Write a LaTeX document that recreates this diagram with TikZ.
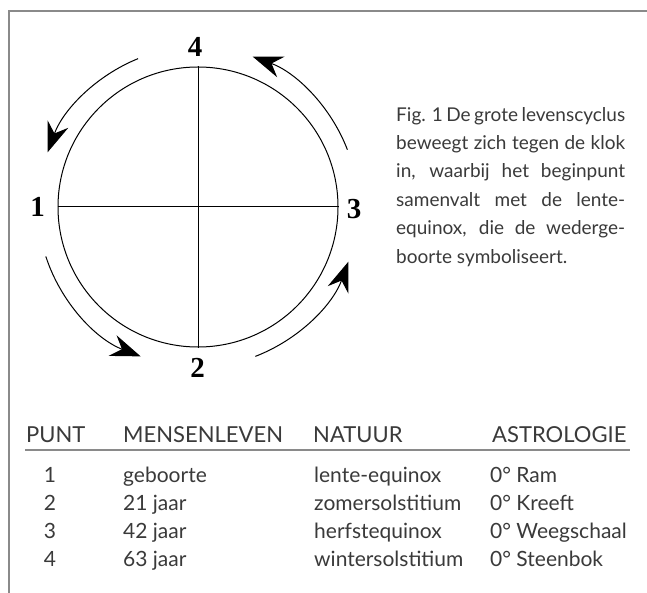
\documentclass[tikz,border=0pt]{standalone}
\usepackage{fontspec}
\setmainfont{Lato}
\newfontfamily\numfont{Liberation Serif}
\usetikzlibrary{arrows.meta,calc}
\definecolor{txt}{HTML}{3A3A3A}
\definecolor{framegray}{HTML}{8A8A8A}
\begin{document}
\begin{tikzpicture}[x=1pt,y=-1pt,
  captext/.style={anchor=base west, inner sep=0pt, text=txt, font=\fontsize{19}{19}\selectfont},
  cell/.style={anchor=base west, inner sep=0pt, text=txt, font=\fontsize{21}{21}\selectfont},
  headcell/.style={anchor=base west, inner sep=0pt, text=txt, font=\fontsize{22}{22}\selectfont},
  digit/.style={anchor=base, inner sep=0pt, text=txt, font=\fontsize{21}{21}\selectfont},
  num/.style={inner sep=0pt, font=\numfont\bfseries\fontsize{29}{29}\selectfont},
  cyc/.style={line width=1pt, -{Stealth[length=30pt,width=22pt,inset=10pt]}},
  thinline/.style={line width=1pt},
  rulegray/.style={framegray, line width=2pt},
]
\useasboundingbox (0,0) rectangle (647,593);
\fill[white] (0,0) rectangle (647,593);
% frame
\coordinate (fb) at (8.5,600);
\coordinate (fc) at (8.5,11.5);
\coordinate (fr) at (660,11.5);
\draw[rulegray] (fb) -- (fc) -- (fr);
% circle
\node[circle, draw, thinline, minimum size=280pt, inner sep=0pt] (c) at (198,207) {};
\draw[thinline] (c.north) -- (c.south);
\draw[thinline] (c.west) -- (c.east);
% numbers
\node[num] (n4) at (195,47) {4};
\node[num] (n1) at (37.5,207) {1};
\node[num] (n3) at (354,209) {3};
\node[num] (n2) at (197.5,368) {2};
% cycle arrows
\coordinate (s1) at ($(c)+(-112:160)$);
\coordinate (s2) at ($(c)+(-198:160)$);
\coordinate (s3) at ($(c)+(-291:160)$);
\coordinate (s4) at ($(c)+(-21:160)$);
\draw[cyc] (s1) arc[start angle=-112, end angle=-160, radius=160];
\draw[cyc] (s2) arc[start angle=-198, end angle=-249, radius=160];
\draw[cyc] (s3) arc[start angle=-291, end angle=-340, radius=160];
\draw[cyc] (s4) arc[start angle=-21, end angle=-70, radius=160];
% caption
\node[captext] (l1) at (396,122) {\makebox[229pt][s]{Fig. 1 De grote levenscyclus}};
\node[captext] (l2) at (396,150) {\makebox[229pt][s]{beweegt zich tegen de klok}};
\node[captext] (l3) at (396,178) {\makebox[229pt][s]{in, waarbij het beginpunt}};
\node[captext] (l4) at (396,207) {\makebox[229pt][s]{samenvalt met de lente-}};
\node[captext] (l5) at (396,235) {\makebox[229pt][s]{equinox, die de wederge-}};
\node[captext] (l6) at (396,264) {boorte symboliseert.};
% table header
\node[headcell] (h1) at (26,442) {PUNT};
\node[headcell] (h2) at (123,442) {MENSENLEVEN};
\node[headcell] (h3) at (313,442) {NATUUR};
\node[headcell] (h4) at (492,442) {ASTROLOGIE};
\coordinate (ra) at (25,450);
\coordinate (rb) at (630,450);
\draw[rulegray] (ra) -- (rb);
% rows
\node[digit] (p1) at (50,482) {1};
\node[cell] (m1) at (123,482) {geboorte};
\node[cell] (t1) at (314,482) {lente-equinox};
\node[cell] (a1) at (490,482) {0° Ram};
\node[digit] (p2) at (50,510) {2};
\node[cell] (m2) at (123,510) {21 jaar};
\node[cell] (t2) at (314,510) {zomersolstitium};
\node[cell] (a2) at (490,510) {0° Kreeft};
\node[digit] (p3) at (50,538) {3};
\node[cell] (m3) at (123,538) {42 jaar};
\node[cell] (t3) at (314,538) {herfstequinox};
\node[cell] (a3) at (490,538) {0° Weegschaal};
\node[digit] (p4) at (50,566) {4};
\node[cell] (m4) at (123,566) {63 jaar};
\node[cell] (t4) at (314,566) {wintersolstitium};
\node[cell] (a4) at (490,566) {0° Steenbok};
\end{tikzpicture}
\end{document}
